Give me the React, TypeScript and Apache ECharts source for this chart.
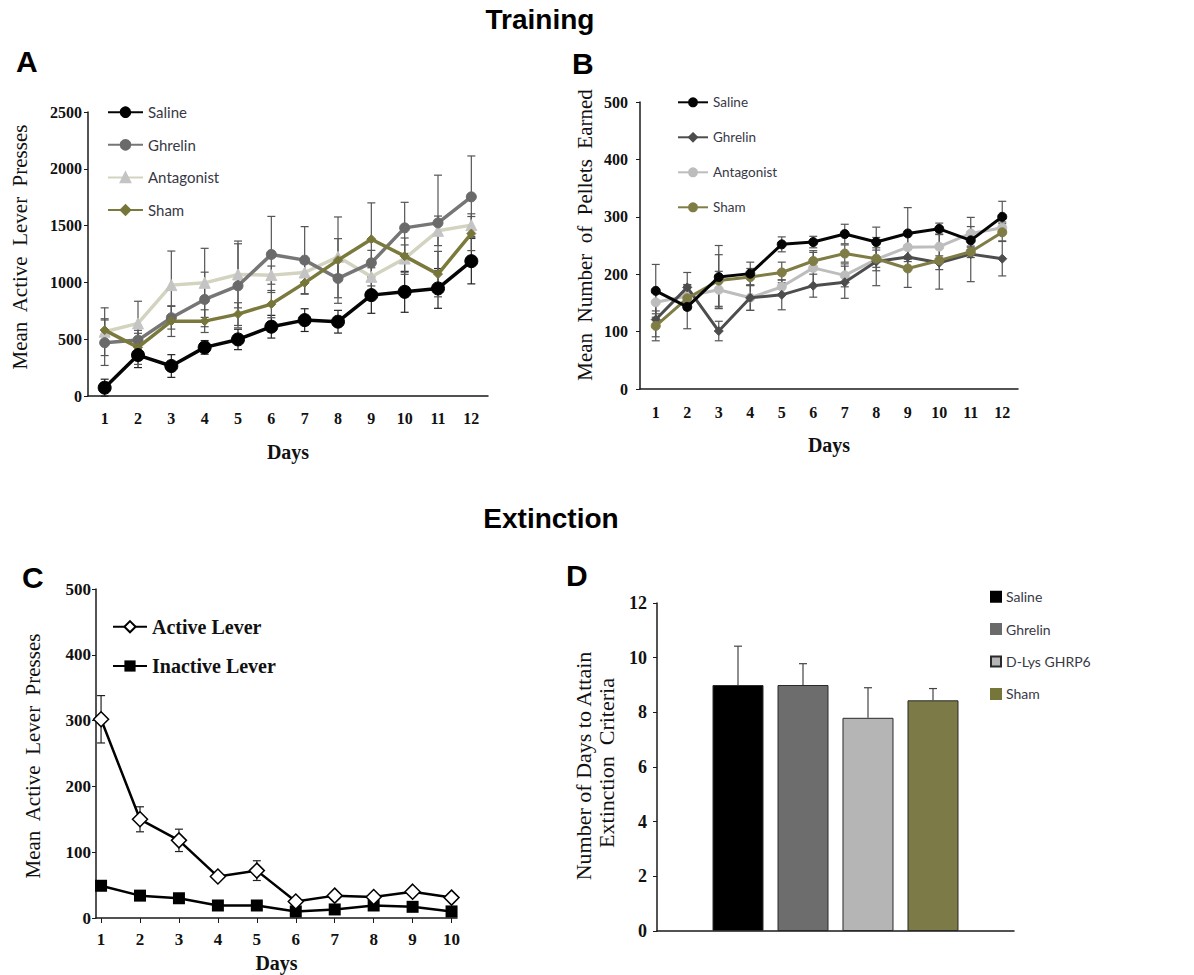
import React, { useEffect, useRef } from "react";
import * as echarts from "echarts";

// ---------- Data ----------
const daysTraining = ["1", "2", "3", "4", "5", "6", "7", "8", "9", "10", "11", "12"];
const groupsTraining = ["Saline", "Ghrelin", "Antagonist", "Sham"];

// Panel A: mean active lever presses (training)
const pressSaline = [73, 360, 264, 428, 498, 610, 668, 654, 888, 917, 947, 1187];
const pressGhrelin = [469, 492, 689, 850, 970, 1246, 1196, 1035, 1172, 1480, 1524, 1753];
const pressAntagonist = [566, 639, 976, 996, 1070, 1064, 1087, 1225, 1049, 1210, 1454, 1504];
const pressSham = [580, 428, 659, 659, 721, 809, 996, 1196, 1380, 1231, 1073, 1430];
const pressSalineErr = [75, 110, 100, 60, 90, 100, 100, 100, 160, 180, 175, 200];
const pressGhrelinErr = [200, 60, 100, 240, 370, 335, 295, 170, 110, 225, 420, 360];
const pressAntagonistErr = [210, 195, 300, 304, 294, 80, 80, 160, 80, 120, 130, 100];
const pressShamErr = [100, 150, 135, 100, 100, 120, 100, 380, 320, 160, 200, 150];
const pressTicks = [0, 500, 1000, 1500, 2000, 2500];

// Panel B: mean number of pellets earned (training)
const pelletSaline = [171, 143, 195, 201, 252, 256, 270, 256, 271, 279, 259, 300];
const pelletGhrelin = [121, 177, 101, 159, 164, 180, 186, 222, 230, 220, 235, 227];
const pelletAntagonist = [151, 162, 173, 159, 178, 211, 198, 226, 247, 248, 271, 281];
const pelletSham = [110, 158, 189, 195, 203, 223, 236, 227, 210, 224, 239, 273];
const pelletSalineErr = [46, 38, 55, 20, 13, 10, 17, 26, 45, 10, 12, 27];
const pelletGhrelinErr = [30, 26, 17, 22, 26, 20, 28, 42, 20, 12, 48, 30];
const pelletAntagonistErr = [20, 20, 32, 22, 12, 30, 20, 20, 25, 22, 28, 10];
const pelletShamErr = [26, 20, 45, 15, 18, 15, 15, 15, 33, 50, 10, 15];

// Panel C: extinction
const daysExtinction = [1, 2, 3, 4, 5, 6, 7, 8, 9, 10];
const activeLever = [302, 150, 118, 63, 72, 25, 34, 32, 40, 31];
const activeLeverErr = [36, 19, 17, 4, 15, 3, 3, 3, 3, 3];
const inactiveLever = [49, 34, 30, 19, 19, 10, 13, 19, 17, 10];
const inactiveLeverErr = [2, 2, 2, 2, 2, 2, 2, 2, 2, 2];

// Panel D: days to attain extinction criteria
const groupsExtinction = ["Saline", "Ghrelin", "D-Lys GHRP6", "Sham"];
const daysToCriteria = [9.0, 9.0, 7.8, 8.44];
const daysToCriteriaErr = [1.42, 0.78, 1.1, 0.43];

// ---------- Styles ----------
const SERIF = '"Liberation Serif", "Times New Roman", serif';
const SANS = 'Lato, "Open Sans", sans-serif';
const HEAD = '"Liberation Sans", Arial, sans-serif';
const AXIS = "#1a1a1a";
const LEGEND_TEXT = "#383845";

const colorsA = ["#050505", "#767676", "#d3d3c0", "#7b7a3c"];
const markersA = ["#000000", "#6a6a6a", "#c4c4c4", "#77763a"];
const colorsB = ["#050505", "#4d4d4d", "#bdbdbd", "#7f7d45"];
const colorsD = ["#000000", "#6d6d6d", "#b5b5b5", "#7c7a46"];

function errData(vals: number[], errs: number[], xs?: number[]) {
  return vals.map((v, i) => [xs ? xs[i] : i, v - errs[i], v + errs[i]]);
}

function errorSeries(
  xi: number,
  data: number[][],
  color: string,
  cap: number,
  z: number,
  name: string
) {
  return {
    type: "custom",
    name,
    xAxisIndex: xi,
    yAxisIndex: xi,
    z,
    silent: true,
    data,
    encode: { x: 0, y: [1, 2] },
    renderItem: (params: any, api: any) => {
      const x = api.value(0);
      const lo = api.value(1);
      const hi = api.value(2);
      const p1 = api.coord([x, hi]);
      const p2 = api.coord([x, lo]);
      const w = cap / 2;
      const st = { stroke: color, lineWidth: 1.2 };
      return {
        type: "group",
        children: [
          { type: "line", shape: { x1: p1[0], y1: p1[1], x2: p2[0], y2: p2[1] }, style: st },
          { type: "line", shape: { x1: p1[0] - w, y1: p1[1], x2: p1[0] + w, y2: p1[1] }, style: st },
          { type: "line", shape: { x1: p2[0] - w, y1: p2[1], x2: p2[0] + w, y2: p2[1] }, style: st },
        ],
      };
    },
  };
}

function lineSeries(
  xi: number,
  name: string,
  data: any[],
  color: string,
  marker: string,
  symbol: string,
  size: number,
  width: number,
  z: number
) {
  return {
    type: "line",
    name,
    xAxisIndex: xi,
    yAxisIndex: xi,
    data,
    z,
    symbol,
    symbolSize: size,
    showAllSymbol: true,
    lineStyle: { color, width },
    itemStyle: { color: marker, borderColor: marker, borderWidth: 1 },
  };
}

function valueAxisY(gi: number, max: number, interval: number, fontSize: number, margin: number) {
  return {
    type: "value",
    gridIndex: gi,
    min: 0,
    max,
    interval,
    axisLine: { show: true, lineStyle: { color: AXIS, width: 1.5 } },
    axisTick: { show: true, inside: false, length: 4, lineStyle: { color: AXIS } },
    splitLine: { show: false },
    axisLabel: {
      fontFamily: SERIF,
      fontWeight: "bold",
      fontSize,
      color: "#111",
      margin,
      formatter: (v: number) => String(v),
    },
  };
}

function categoryAxisX(gi: number, data: string[], margin: number, nameGap: number) {
  return {
    type: "category",
    gridIndex: gi,
    data,
    boundaryGap: true,
    axisLine: { show: true, lineStyle: { color: AXIS, width: 1.5 } },
    axisTick: { show: false },
    axisLabel: { fontFamily: SERIF, fontWeight: "bold", fontSize: 16, color: "#111", margin },
    name: "Days",
    nameLocation: "middle",
    nameGap,
    nameTextStyle: { fontFamily: SERIF, fontWeight: "bold", fontSize: 20, color: "#111" },
  };
}

function buildOption() {
  const option: any = {
    animation: false,
    backgroundColor: "#ffffff",
    grid: [
      { left: 88, top: 112, width: 400, height: 284 },
      { left: 640, top: 102, width: 378, height: 287 },
      { left: 96, top: 589, width: 361, height: 329 },
      { left: 657, top: 603, width: 357, height: 328 },
    ],
    xAxis: [
      categoryAxisX(0, daysTraining, 14, 46),
      categoryAxisX(1, daysTraining, 15, 46),
      {
        type: "value",
        gridIndex: 2,
        min: 0.87,
        max: 10.14,
        axisLine: { show: true, lineStyle: { color: AXIS, width: 1.5 } },
        axisTick: { show: true, length: 5, customValues: daysExtinction, lineStyle: { color: AXIS } },
        splitLine: { show: false },
        axisLabel: {
          fontFamily: SERIF,
          fontWeight: "bold",
          fontSize: 17,
          color: "#111",
          margin: 13,
          customValues: daysExtinction,
        },
        name: "Days",
        nameLocation: "middle",
        nameGap: 35,
        nameTextStyle: { fontFamily: SERIF, fontWeight: "bold", fontSize: 20, color: "#111" },
      },
      {
        type: "category",
        gridIndex: 3,
        data: [""],
        axisLine: { show: true, lineStyle: { color: AXIS, width: 1.5 } },
        axisTick: { show: false },
        axisLabel: { show: false },
      },
    ],
    yAxis: [
      valueAxisY(0, pressTicks[pressTicks.length - 1], 500, 16, 6),
      valueAxisY(1, 500, 100, 16, 12),
      valueAxisY(2, 500, 100, 17, 5),
      valueAxisY(3, 12, 2, 18, 10),
    ],
    legend: [
      {
        orient: "vertical",
        left: 102,
        top: 99.7,
        itemWidth: 35,
        itemHeight: 12,
        itemGap: 17.6,
        selectedMode: false,
        data: groupsTraining.map((n) => ({ name: n })),
        textStyle: { fontFamily: SANS, fontSize: 15, color: LEGEND_TEXT, lineHeight: 14 },
      },
      {
        orient: "vertical",
        left: 672,
        top: 90.3,
        itemWidth: 30,
        itemHeight: 10,
        itemGap: 21,
        selectedMode: false,
        data: groupsTraining.map((n) => ({ name: "B " + n })),
        formatter: (n: string) => n.replace(/^B /, ""),
        textStyle: { fontFamily: SANS, fontSize: 13.5, color: LEGEND_TEXT, lineHeight: 14 },
      },
      {
        orient: "vertical",
        left: 107,
        top: 611.7,
        itemWidth: 34,
        itemHeight: 14,
        itemGap: 19.3,
        selectedMode: false,
        data: ["Active Lever", "Inactive Lever"],
        textStyle: { fontFamily: SERIF, fontWeight: "bold", fontSize: 20, color: "#111", lineHeight: 20 },
      },
      {
        orient: "vertical",
        left: 985,
        top: 584.7,
        itemWidth: 10,
        itemHeight: 10,
        itemGap: 18.4,
        icon: "rect",
        selectedMode: false,
        data: groupsExtinction,
        textStyle: { fontFamily: SANS, fontSize: 14, color: LEGEND_TEXT, lineHeight: 14 },
      },
    ],
    graphic: [
      {
        type: "text",
        x: 540,
        y: 19,
        style: { text: "Training", font: `bold 28px ${HEAD}`, fill: "#000", align: "center", verticalAlign: "middle" },
      },
      {
        type: "text",
        x: 551,
        y: 518,
        style: { text: "Extinction", font: `bold 28px ${HEAD}`, fill: "#000", align: "center", verticalAlign: "middle" },
      },
      { type: "text", x: 16, y: 61, style: { text: "A", font: `bold 30px ${HEAD}`, fill: "#000", verticalAlign: "middle" } },
      { type: "text", x: 572, y: 63, style: { text: "B", font: `bold 30px ${HEAD}`, fill: "#000", verticalAlign: "middle" } },
      { type: "text", x: 22, y: 577, style: { text: "C", font: `bold 30px ${HEAD}`, fill: "#000", verticalAlign: "middle" } },
      { type: "text", x: 566, y: 575, style: { text: "D", font: `bold 30px ${HEAD}`, fill: "#000", verticalAlign: "middle" } },
      {
        type: "text",
        x: 20,
        y: 247,
        rotation: Math.PI / 2,
        style: { text: "Mean  Active  Lever  Presses", font: `21px ${SERIF}`, fill: "#111", align: "center", verticalAlign: "middle" },
      },
      {
        type: "text",
        x: 585,
        y: 235,
        rotation: Math.PI / 2,
        style: { text: "Mean  Number  of  Pellets  Earned", font: `21px ${SERIF}`, fill: "#111", align: "center", verticalAlign: "middle" },
      },
      {
        type: "text",
        x: 33,
        y: 756,
        rotation: Math.PI / 2,
        style: { text: "Mean  Active  Lever  Presses", font: `21px ${SERIF}`, fill: "#111", align: "center", verticalAlign: "middle" },
      },
      {
        type: "text",
        x: 583,
        y: 766,
        rotation: Math.PI / 2,
        style: { text: "Number of Days to Attain", font: `22px ${SERIF}`, fill: "#111", align: "center", verticalAlign: "middle" },
      },
      {
        type: "text",
        x: 606,
        y: 763,
        rotation: Math.PI / 2,
        style: { text: "Extinction  Criteria", font: `22px ${SERIF}`, fill: "#111", align: "center", verticalAlign: "middle" },
      },
    ],
    series: [] as any[],
  };

  // Panel A
  const aVals = [pressSaline, pressGhrelin, pressAntagonist, pressSham];
  const aErrs = [pressSalineErr, pressGhrelinErr, pressAntagonistErr, pressShamErr];
  const aSym = ["circle", "circle", "triangle", "diamond"];
  const aSize = [13, 10, 11, 9];
  const aZ = [6, 4, 3, 5];
  const aErrColor = ["#222", "#555", "#555", "#555"];
  aVals.forEach((v, i) => {
    option.series.push(errorSeries(0, errData(v, aErrs[i]), aErrColor[i], 8, 1, "errA" + i));
  });
  aVals.forEach((v, i) => {
    option.series.push(lineSeries(0, groupsTraining[i], v, colorsA[i], markersA[i], aSym[i], aSize[i], 3.5, aZ[i]));
  });

  // Panel B
  const bVals = [pelletSaline, pelletGhrelin, pelletAntagonist, pelletSham];
  const bErrs = [pelletSalineErr, pelletGhrelinErr, pelletAntagonistErr, pelletShamErr];
  const bSym = ["circle", "diamond", "circle", "circle"];
  const bZ = [6, 4, 3, 5];
  bVals.forEach((v, i) => {
    option.series.push(errorSeries(1, errData(v, bErrs[i]), "#555", 8, 1, "errB" + i));
  });
  bVals.forEach((v, i) => {
    option.series.push(lineSeries(1, "B " + groupsTraining[i], v, colorsB[i], colorsB[i], bSym[i], 9, 3, bZ[i]));
  });

  // Panel C
  option.series.push(
    errorSeries(2, errData(activeLever, activeLeverErr, daysExtinction), "#222", 8, 1, "errC0"),
    errorSeries(2, errData(inactiveLever, inactiveLeverErr, daysExtinction), "#222", 6, 1, "errC1"),
    {
      type: "line",
      name: "Active Lever",
      xAxisIndex: 2,
      yAxisIndex: 2,
      data: daysExtinction.map((d, i) => [d, activeLever[i]]),
      symbol: "diamond",
      symbolSize: 15,
      z: 5,
      lineStyle: { color: "#000", width: 2.5 },
      itemStyle: { color: "#ffffff", borderColor: "#000", borderWidth: 1.5 },
    },
    {
      type: "line",
      name: "Inactive Lever",
      xAxisIndex: 2,
      yAxisIndex: 2,
      data: daysExtinction.map((d, i) => [d, inactiveLever[i]]),
      symbol: "rect",
      symbolSize: 12,
      z: 4,
      lineStyle: { color: "#000", width: 2.5 },
      itemStyle: { color: "#000" },
    }
  );

  // Panel D
  const barW = 51;
  const barGapPx = 14;
  groupsExtinction.forEach((g, i) => {
    option.series.push({
      type: "bar",
      name: g,
      xAxisIndex: 3,
      yAxisIndex: 3,
      data: [daysToCriteria[i]],
      barWidth: barW,
      barGap: `${((barGapPx / barW) * 100).toFixed(2)}%`,
      z: 2,
      itemStyle: { color: colorsD[i], borderColor: "#2a2a2a", borderWidth: 1 },
    });
  });
  option.series.push({
    type: "custom",
    name: "errD",
    xAxisIndex: 3,
    yAxisIndex: 3,
    z: 1,
    silent: true,
    data: daysToCriteria.map((v, i) => [0, v, v + daysToCriteriaErr[i], i]),
    encode: { x: 0, y: [1, 2] },
    renderItem: (params: any, api: any) => {
      const idx = api.value(3);
      const pBar = api.coord([0, api.value(1)]);
      const pTop = api.coord([0, api.value(2)]);
      const n = groupsExtinction.length;
      const dx = (idx - (n - 1) / 2) * (barW + barGapPx);
      const x = pBar[0] + dx;
      const st = { stroke: "#444", lineWidth: 1.2 };
      return {
        type: "group",
        children: [
          { type: "line", shape: { x1: x, y1: pBar[1], x2: x, y2: pTop[1] }, style: st },
          { type: "line", shape: { x1: x - 4, y1: pTop[1], x2: x + 4, y2: pTop[1] }, style: st },
        ],
      };
    },
  });

  return option;
}

export default function App() {
  const ref = useRef<HTMLDivElement>(null);
  useEffect(() => {
    if (!ref.current) return;
    const chart = echarts.init(ref.current, undefined, { renderer: "svg" });
    chart.setOption(buildOption());
    return () => chart.dispose();
  }, []);
  return (
    <div
      ref={ref}
      style={{ position: "absolute", left: 0, top: 0, width: 1194, height: 975, background: "#fff" }}
    />
  );
}
